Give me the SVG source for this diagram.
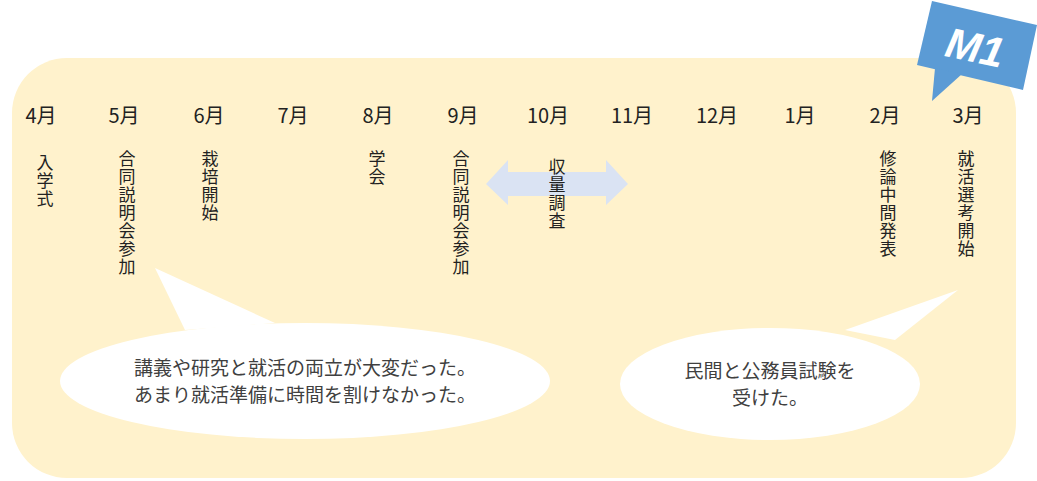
<svg xmlns="http://www.w3.org/2000/svg" width="1037" height="481" viewBox="0 0 1037 481">
<style>
text{font-family:"Noto Sans CJK JP","Noto Sans",sans-serif;fill:#222}
.m{font-size:20px;text-anchor:middle}
.v{font-size:17px;writing-mode:vertical-rl;letter-spacing:1px}
.c{font-size:19px;text-anchor:middle;fill:#404040}
.call{fill:#fff;stroke:none}
</style>
<rect x="12" y="58" width="1004" height="420" rx="55" fill="#fff2cc"/>
<g id="badge">
<polygon points="932,1 1037,25 1023,90 917,65" fill="#5b9bd5"/>
<polygon points="935,68 962,74 932,101" fill="#5b9bd5"/>
<text x="975" y="62" transform="rotate(12 975 48)" style="font-family:'Liberation Sans',sans-serif;font-style:italic;font-weight:bold;font-size:42px;fill:#fff;text-anchor:middle">M1</text>
</g>
<g id="months">
<text class="m" x="41" y="123">4月</text><text class="m" x="124" y="123">5月</text><text class="m" x="209" y="123">6月</text><text class="m" x="293" y="123">7月</text><text class="m" x="378" y="123">8月</text><text class="m" x="463" y="123">9月</text><text class="m" x="548" y="123">10月</text><text class="m" x="632" y="123">11月</text><text class="m" x="717" y="123">12月</text><text class="m" x="800" y="123">1月</text><text class="m" x="885" y="123">2月</text><text class="m" x="968" y="123">3月</text>
</g>
<g id="connectors">
<polygon points="486,184 508,160 508,172 606,172 606,160 628,184 606,205 606,196 508,196 508,205" fill="#dae3f3"/>
</g>
<g id="events">
<text class="v" x="45" y="154">入学式</text>
<text class="v" x="127" y="150">合同説明会参加</text>
<text class="v" x="210" y="150">栽培開始</text>
<text class="v" x="377" y="150">学会</text>
<text class="v" x="461" y="150">合同説明会参加</text>
<text class="v" x="557" y="158">収量調査</text>
<text class="v" x="888" y="150">修論中間発表</text>
<text class="v" x="966" y="150">就活選考開始</text>
</g>
<g id="callout1">
<path class="call" d="M185,330 L155,268 L275,323 Z"/>
<ellipse class="call" cx="305" cy="381" rx="245" ry="58"/>
<text class="c" x="305" y="375">講義や研究と就活の両立が大変だった。</text>
<text class="c" x="305" y="402">あまり就活準備に時間を割けなかった。</text>
</g>
<g id="callout2">
<path class="call" d="M845,330 L958,290 L895,340 Z"/>
<ellipse class="call" cx="770" cy="384" rx="150" ry="56"/>
<text class="c" x="770" y="378">民間と公務員試験を</text>
<text class="c" x="770" y="405">受けた。</text>
</g>
</svg>
